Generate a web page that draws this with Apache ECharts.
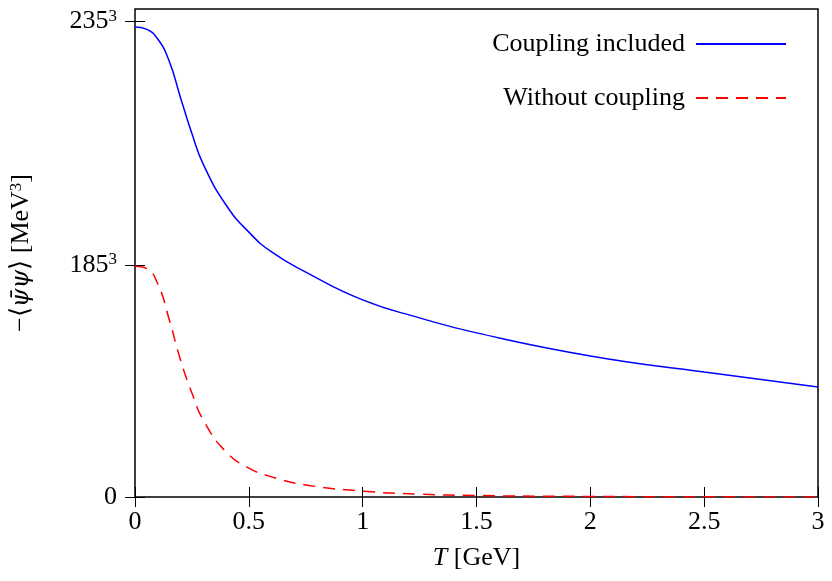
<!DOCTYPE html>
<html>
<head>
<meta charset="utf-8">
<script src="https://cdn.jsdelivr.net/npm/echarts@6/dist/echarts.min.js"></script>
<style>html,body{margin:0;padding:0;background:#fff}</style>
</head>
<body>
<div id="chart" style="width:832px;height:581px"></div>
<script>
// values in 10^6 MeV^3
var temps = [0, 0.05, 0.1, 0.15, 0.2, 0.25, 0.3, 0.4, 0.5, 0.6, 0.75, 1.0, 1.25, 1.5, 2.0, 2.5, 3.0];
var coupled = [12.83, 12.77, 12.50, 11.90, 10.90, 9.92, 9.08, 7.97, 7.23, 6.69, 6.14, 5.38, 4.89, 4.48, 3.85, 3.41, 3.00];
var uncoupled = [6.30, 6.24, 5.82, 4.85, 3.74, 2.84, 2.10, 1.23, 0.79, 0.55, 0.33, 0.16, 0.08, 0.04, 0.015, 0.005, 0.002];
var yTicks = [0, 185, 235]; // cube roots of tick values in MeV
var xTicks = [0, 0.5, 1, 1.5, 2, 2.5, 3];

var yTickVals = yTicks.map(function (v) { return v * v * v / 1e6; });
var font = 'Liberation Serif';
var chart = echarts.init(document.getElementById('chart'));

function pairs(ys) { return temps.map(function (t, i) { return [t, ys[i]]; }); }

var yLabel = {
    show: true, fontFamily: font, fontSize: 26, color: '#000', margin: 18,
    customValues: yTickVals,
    formatter: function (v) {
        var i = yTickVals.findIndex(function (t) { return Math.abs(t - v) < 1e-6; });
        return yTicks[i] === 0 ? '0' : yTicks[i] + '{s|3}';
    },
    rich: { s: { fontFamily: font, fontSize: 17, verticalAlign: 'top', padding: [0, 0, 10, 0] } }
};

var option = {
    animation: false,
    grid: { left: 131, right: 14, top: 9, bottom: 84, show: true, borderColor: '#000', borderWidth: 1.5 },
    legend: {
        orient: 'vertical', right: 40, top: 26, align: 'right', itemWidth: 90, itemGap: 28,
        itemStyle: { opacity: 0 },
        textStyle: { fontFamily: font, fontSize: 26, color: '#000', padding: [0, 6, 0, 0] },
        data: ['Coupling included', 'Without coupling']
    },
    xAxis: [{
        type: 'value', min: 0, max: 3, interval: 0.5,
        name: '{i|T} [GeV]', nameLocation: 'middle', nameGap: 48,
        nameTextStyle: { fontFamily: font, fontSize: 26, color: '#000', rich: { i: { fontFamily: font, fontStyle: 'italic', fontSize: 26 } } },
        axisLine: { show: false }, splitLine: { show: false },
        axisTick: { inside: true, length: 10, lineStyle: { color: '#000' } },
        axisLabel: { fontFamily: font, fontSize: 26, color: '#000', margin: 12, formatter: function (v) { return String(v); } }
    }, {
        type: 'value', position: 'top', min: 0, max: 3, interval: 0.5,
        axisLine: { show: false }, splitLine: { show: false }, axisLabel: { show: false },
        axisTick: { inside: true, length: 10, lineStyle: { color: '#000' } }
    }],
    yAxis: [{
        type: 'value', min: 0, max: 13.32,
        name: '−⟨{g|ψ̄ψ}⟩ [MeV{s|3}]', nameLocation: 'middle', nameGap: 100, nameRotate: 90,
        nameTextStyle: { fontFamily: font, fontSize: 26, color: '#000', rich: {
            s: { fontFamily: font, fontSize: 17, verticalAlign: 'top', padding: [0, 0, 10, 0] },
            g: { fontFamily: 'DejaVu Serif', fontStyle: 'italic', fontSize: 24 } } },
        axisLine: { show: false }, splitLine: { show: false },
        axisTick: { inside: true, length: 10, customValues: yTickVals, lineStyle: { color: '#000' } },
        axisLabel: yLabel
    }, {
        type: 'value', position: 'right', min: 0, max: 13.32,
        axisLine: { show: false }, splitLine: { show: false }, axisLabel: { show: false },
        axisTick: { inside: true, length: 10, customValues: yTickVals, lineStyle: { color: '#000' } }
    }],
    series: [{
        name: 'Coupling included', type: 'line', smooth: 0.5, showSymbol: false, symbol: 'none',
        data: pairs(coupled), color: '#0000ff', lineStyle: { width: 1.5, color: '#0000ff' }
    }, {
        name: 'Without coupling', type: 'line', smooth: 0.5, showSymbol: false, symbol: 'none',
        data: pairs(uncoupled), color: '#ff0000', lineStyle: { width: 1.5, color: '#ff0000', type: [12, 8] }
    }]
};
chart.setOption(option);
window.addEventListener('resize', chart.resize);
</script>
</body>
</html>
